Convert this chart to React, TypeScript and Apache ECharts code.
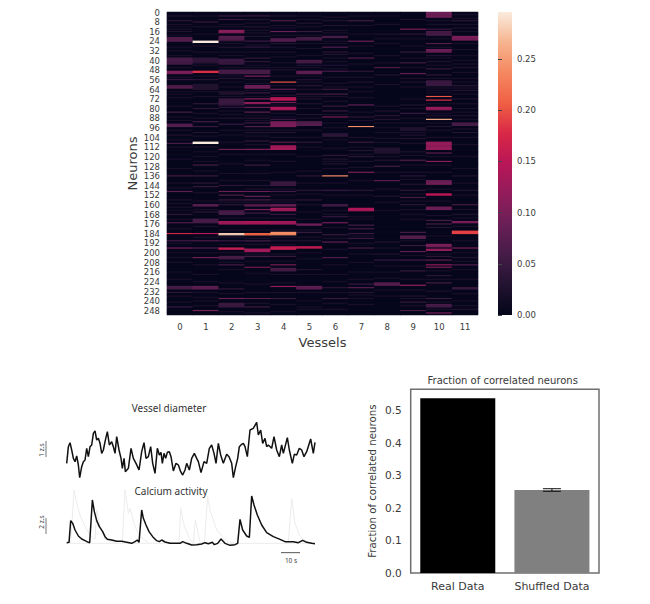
import React, { useEffect, useRef } from "react";
import * as echarts from "echarts";

// ---- heatmap: per vessel, [first neuron row, correlation, rows spanned]
const neuronCount = 252;
const baseline = 0.003;
const faintValue = 0.022;
const faintRows = [
  [10,14,19,32,36,46,54,68,71,78,87,90,98,106,112,122,130,142,146,159,162,172,180,192,200,208,216,222,236,241],
  [3,12,18,28,33,44,53,66,70,84,88,103,112,120,124,132,150,157,164,178,187,200,210,218,224,233,240,244],
  [10,12,24,26,33,36,46,53,58,62,70,82,85,98,102,108,118,126,134,140,158,171,181,187,193,200,208,214,225,234,242,249],
  [9,15,17,27,33,44,46,56,59,65,70,86,90,98,103,110,118,123,134,140,147,158,171,181,188,193,201,207,217,226,233,242,250],
  [11,13,19,29,33,37,42,46,53,61,66,77,84,87,98,104,118,124,133,147,152,158,171,181,187,193,201,207,218,225,233,243,249],
  [6,12,19,26,30,36,46,53,58,64,70,80,88,98,104,112,120,132,142,151,160,166,172,181,187,200,205,218,233,240,245],
  [4,17,24,26,38,41,47,54,62,70,74,85,92,96,106,113,124,130,142,152,165,168,179,188,197,210,218,224,233,242,247],
  [3,11,18,28,34,43,54,62,66,71,83,90,104,112,118,124,129,140,152,170,172,186,192,201,208,216,222,235,238,243],
  [10,22,36,42,60,78,92,100,108,120,133,147,165,196,211,221,231,236],
  [6,22,28,38,46,55,62,72,80,88,92,100,109,119,127,133,139,151,157,164,172,190,202,211,222,231,238,244],
  [7,10,22,29,38,44,55,63,67,76,84,92,98,104,120,127,133,147,157,169,186,201,215,222,232,241,247],
  [2,5,10,16,26,31,43,50,58,63,68,76,80,83,89,97,104,110,120,130,142,152,164,171,178,190,200,207,214,222,234,240,244],
];
const vessel0 = [[3,0.03],[7,0.04],[12,0.02],[16,0.03],[21,0.07,4],[29,0.02],[38,0.06,6],[49,0.1,3],[56,0.05],[61,0.07,3],[66,0.02],[83,0.06],[93,0.07,3],[102,0.03],[109,0.06],[118,0.01],[136,0.06],[149,0.08],[156,0.03],[165,0.02],[168,0.04],[175,0.07],[184,0.17],[190,0.06],[196,0.1],[204,0.02],[228,0.06,3],[233,0.04],[245,0.05]];
const vessel1 = [[8,0.05],[24,0.296,2],[38,0.04,5],[49,0.18,2],[56,0.04],[60,0.03,5],[76,0.04],[80,0.04],[91,0.06],[95,0.05],[100,0.03],[108,0.296,2],[116,0.02],[127,0.06],[136,0.05],[142,0.04],[145,0.05],[160,0.08,2],[166,0.04],[172,0.06,4],[184,0.15],[190,0.07],[196,0.07],[204,0.1],[228,0.08,3],[237,0.02],[248,0.1]];
const vessel2 = [[3,0.05],[6,0.05],[15,0.11,3],[20,0.07,4],[29,0.03],[39,0.05,5],[48,0.06,4],[55,0.03],[66,0.03,3],[72,0.05,6],[79,0.04],[88,0.03],[93,0.05],[114,0.09],[144,0.04],[149,0.09],[152,0.07],[156,0.05],[160,0.04],[165,0.06,4],[174,0.13,3],[184,0.28,2],[190,0.05],[196,0.16,2],[203,0.06,3],[210,0.06],[230,0.04],[238,0.09],[242,0.05,4]];
const vessel3 = [[3,0.05],[6,0.03],[12,0.03],[20,0.03],[24,0.05],[29,0.04],[38,0.04],[41,0.04],[48,0.06,4],[53,0.1],[61,0.09,3],[67,0.05],[72,0.11],[75,0.12,2],[79,0.08],[83,0.08],[88,0.03],[92,0.05],[95,0.07],[100,0.03],[107,0.05],[114,0.1],[127,0.05],[144,0.03],[149,0.09],[153,0.08],[156,0.06],[160,0.08,2],[164,0.1],[167,0.05],[174,0.14,3],[184,0.21,2],[190,0.06],[197,0.13,3],[203,0.06],[212,0.11],[238,0.08],[245,0.05]];
const vessel4 = [[3,0.03],[7,0.07],[16,0.09],[22,0.07,3],[26,0.03],[48,0.03],[58,0.2],[64,0.08],[69,0.03],[71,0.15,3],[75,0.1],[79,0.14,3],[89,0.05],[91,0.1,5],[100,0.03],[108,0.07],[111,0.13,4],[141,0.05,4],[149,0.06],[156,0.03],[160,0.09,2],[163,0.13,3],[168,0.05],[174,0.13,3],[183,0.24,3],[190,0.03],[195,0.16,3],[203,0.05],[210,0.1],[213,0.06,3],[228,0.12],[238,0.05]];
const vessel5 = [[3,0.02],[9,0.03],[16,0.05],[21,0.06,3],[40,0.06,3],[44,0.03],[49,0.08,3],[56,0.03],[61,0.04],[68,0.05],[72,0.03],[76,0.03],[85,0.03],[91,0.07,4],[108,0.04],[136,0.04],[148,0.04],[156,0.04],[176,0.09,2],[183,0.05],[190,0.03],[195,0.16,2],[214,0.03],[228,0.08,3],[247,0.02]];
const vessel6 = [[7,0.03],[11,0.03],[15,0.02],[20,0.06,2],[29,0.07],[33,0.04],[35,0.03],[44,0.03],[49,0.06],[59,0.02],[64,0.05],[68,0.06],[78,0.05],[82,0.05],[87,0.1],[101,0.04,3],[119,0.04],[122,0.03],[126,0.03],[136,0.24],[148,0.05],[160,0.06,2],[170,0.05],[175,0.1],[185,0.05],[191,0.08],[204,0.07],[229,0.04],[238,0.05]];
const vessel7 = [[7,0.06],[24,0.09],[38,0.07],[49,0.04],[58,0.03],[77,0.08],[87,0.04],[95,0.24],[108,0.05],[115,0.03],[120,0.04],[133,0.1],[148,0.04],[163,0.14,3],[177,0.06],[180,0.06],[184,0.05],[188,0.05],[196,0.06],[226,0.05],[229,0.08],[233,0.03]];
const vessel8 = [[3,0.02],[18,0.03],[26,0.02],[46,0.07],[52,0.03],[82,0.03],[86,0.04],[89,0.03],[96,0.02],[105,0.02],[113,0.03,5],[123,0.03],[128,0.06],[140,0.08],[153,0.03],[158,0.02],[191,0.03],[201,0.03],[206,0.05],[216,0.02],[225,0.07,3]];
const vessel9 = [[14,0.1],[18,0.04],[33,0.05],[42,0.06],[51,0.09],[58,0.03],[77,0.03],[84,0.05],[96,0.03,3],[102,0.03],[105,0.03],[116,0.03],[123,0.07],[136,0.04],[143,0.03],[148,0.04],[154,0.06],[160,0.04],[168,0.02],[183,0.06],[186,0.07,3],[194,0.05],[199,0.08],[206,0.06],[215,0.05],[227,0.12],[236,0.03],[241,0.05],[248,0.06]];
const vessel10 = [[0,0.09,5],[14,0.05],[16,0.06,4],[26,0.07],[31,0.09,3],[36,0.03],[41,0.03],[47,0.05],[52,0.04],[57,0.05,5],[65,0.02],[70,0.2],[73,0.18],[79,0.12,3],[86,0.03],[89,0.26],[95,0.03],[108,0.12,7],[117,0.08],[124,0.11],[140,0.09,4],[151,0.15,2],[162,0.09,3],[173,0.06],[176,0.06],[179,0.03],[193,0.1,3],[197,0.12,2],[203,0.04],[206,0.08],[210,0.12],[212,0.1],[219,0.04],[225,0.06],[238,0.05],[243,0.06,3],[250,0.1]];
const vessel11 = [[7,0.04],[13,0.03],[20,0.1,4],[36,0.02],[40,0.02],[46,0.03],[55,0.02],[61,0.04],[65,0.03],[72,0.03],[86,0.03],[92,0.06,3],[100,0.03],[136,0.03],[148,0.03],[160,0.06],[168,0.03],[174,0.1,2],[182,0.19,3],[196,0.1],[204,0.03],[210,0.07],[229,0.05,2],[247,0.03]];
const vesselColumns = [vessel0,vessel1,vessel2,vessel3,vessel4,vessel5,vessel6,vessel7,vessel8,vessel9,vessel10,vessel11];
const vesselLabels = ["0","1","2","3","4","5","6","7","8","9","10","11"];
const colorbarTicks = [0, 0.05, 0.1, 0.15, 0.2, 0.25];
const colorbarMax = 0.296;
const rocket = ["#03051A","#221331","#451C47","#6A1F56","#921C5B","#B91657","#D92847","#F06043","#F58860","#F6B48F","#FAEBDD"];

// ---- traces: [frame, height above trace-panel floor] (30 units = 1 z.s)
const vesselTrace = [[0,65],[5,115],[10,127],[15,105],[20,80],[25,70],[30,87],[35,60],[39,22],[45,55],[50,70],[55,75],[60,110],[65,85],[70,115],[75,120],[80,155],[85,162],[90,135],[95,140],[100,125],[105,95],[110,105],[115,130],[122,160],[128,120],[135,130],[140,115],[145,95],[150,145],[157,105],[163,80],[167,50],[172,80],[176,40],[185,50],[193,110],[200,80],[208,65],[217,45],[225,100],[232,127],[238,80],[245,85],[252,115],[258,65],[265,35],[272,110],[278,90],[283,98],[287,65],[292,95],[297,80],[302,98],[308,100],[313,85],[320,42],[328,65],[335,60],[342,40],[348,30],[355,45],[360,65],[368,45],[375,80],[383,95],[390,80],[395,70],[403,37],[412,70],[420,65],[428,110],[435,120],[442,95],[448,65],[455,125],[462,90],[470,65],[480,92],[487,85],[495,65],[500,22],[507,55],[513,80],[518,115],[525,122],[530,125],[535,115],[542,85],[550,165],[560,170],[570,188],[575,150],[582,165],[588,125],[595,140],[600,115],[605,120],[615,110],[622,145],[630,105],[638,85],[645,120],[650,95],[662,142],[668,105],[677,65],[683,92],[690,90],[698,110],[705,105],[712,85],[720,100],[732,138],[740,95],[745,128]];
const calciumTrace = [[0,82],[7,83],[12,148],[18,140],[25,120],[35,102],[45,93],[55,88],[65,83],[69,82],[77,210],[83,175],[90,148],[98,130],[108,115],[115,100],[122,92],[135,90],[150,86],[165,86],[180,83],[195,80],[205,85],[212,90],[217,83],[225,180],[230,155],[238,135],[247,115],[258,100],[270,88],[278,85],[285,90],[295,84],[310,80],[330,80],[340,80],[348,85],[360,80],[375,75],[390,76],[405,78],[415,82],[425,79],[437,83],[443,76],[453,80],[463,93],[475,80],[490,74],[505,76],[513,80],[520,152],[528,120],[540,102],[548,98],[555,222],[562,195],[572,165],[585,135],[600,112],[620,100],[640,92],[655,85],[680,85],[695,82],[708,89],[720,83],[735,80],[745,79]];
const ghostTraceA = [[0,80],[12,82],[22,240],[30,200],[40,165],[55,130],[70,105],[85,92],[90,180],[100,130],[115,92],[140,84],[167,85],[175,240],[185,170],[190,185],[205,130],[220,100],[245,82]];
const ghostTraceB = [[337,82],[342,185],[352,135],[370,90],[380,82],[386,150],[400,85],[413,80],[423,220],[430,180],[450,120],[480,85],[510,80]];
const ghostTraceC = [[665,85],[675,215],[685,140],[700,100],[725,82],[745,80]];
const ghostBaseline = [[0,80],[745,80]];
const scaleBarFrames = [[643,52],[700,52]];
const traceFrames = 745;
const traceRange = 270;

// ---- bar panel
const barCategories = ["Real Data","Shuffled Data"];
const barValues = [0.537, 0.255];
const barColors = ["#000000","#808080"];
const shuffledError = 0.004;
const barTicks = [0, 0.1, 0.2, 0.3, 0.4, 0.5];
const barAxisMax = 0.5645;

const FONT = "DejaVu Sans";
const TEXT = "#3a3a3a";

function heatmapCells() {
  const cells: number[][] = [];
  vesselColumns.forEach((col, c) => {
    const rows = new Array(neuronCount).fill(baseline);
    faintRows[c].forEach((r) => { rows[r] = faintValue; });
    col.forEach(([r, v, span = 1]) => {
      for (let i = 0; i < span; i++) rows[r + i] = v;
    });
    rows.forEach((v, r) => cells.push([c, r, v]));
  });
  return cells;
}

function ghost(data: number[][]) {
  return { type: "line", xAxisIndex: 3, yAxisIndex: 3, data, symbol: "none", silent: true,
    lineStyle: { color: "#ececec", width: 1 }, z: 1 };
}

export default function App() {
  const ref = useRef<HTMLDivElement>(null);
  useEffect(() => {
    document.body.style.margin = "0";
    document.body.style.background = "#fff";
    const chart = echarts.init(ref.current!, undefined, { renderer: "svg" });
    const rowLabels = Array.from({ length: neuronCount }, (_, i) => String(i));
    const hiddenValue = (min: number, max: number, gridIndex: number) => ({
      type: "value", gridIndex, min, max, show: false });
    const barGradient = new echarts.graphic.LinearGradient(0, 1, 0, 0,
      rocket.map((color, i) => ({ offset: i / (rocket.length - 1), color })));
    chart.setOption({
      animation: false,
      backgroundColor: "#ffffff",
      textStyle: { fontFamily: FONT },
      grid: [
        { left: 167, top: 12, width: 311, height: 303, show: true, backgroundColor: "#03051A", borderWidth: 0 },
        { left: 498, top: 12, width: 14, height: 303 },
        { left: 66.7, top: 395, width: 248.3, height: 90 },
        { left: 66.7, top: 480, width: 248.3, height: 90 },
        { left: 410.7, top: 389.3, width: 188.3, height: 183.7, show: true, borderColor: "#6f6f6f", borderWidth: 1.5, backgroundColor: "#fff" },
      ],
      xAxis: [
        { type: "category", gridIndex: 0, data: vesselLabels, axisLine: { show: false }, axisTick: { show: false },
          axisLabel: { fontSize: 8.5, color: TEXT, margin: 7, fontFamily: FONT },
          name: "Vessels", nameLocation: "middle", nameGap: 19, nameTextStyle: { fontSize: 13, color: TEXT, fontFamily: FONT } },
        hiddenValue(0, 1, 1),
        hiddenValue(0, traceFrames, 2),
        hiddenValue(0, traceFrames, 3),
        { type: "category", gridIndex: 4, data: barCategories, axisLine: { show: false }, axisTick: { show: false },
          axisLabel: { interval: 0, fontSize: 11, color: TEXT, margin: 8, fontFamily: FONT } },
      ],
      yAxis: [
        { type: "category", gridIndex: 0, data: rowLabels, inverse: true, axisLine: { show: false }, axisTick: { show: false },
          axisLabel: { interval: 7, fontSize: 8.5, color: TEXT, margin: 7, fontFamily: FONT },
          name: "Neurons", nameLocation: "middle", nameGap: 28, nameTextStyle: { fontSize: 13, color: TEXT, fontFamily: FONT } },
        { type: "value", gridIndex: 1, position: "right", min: 0, max: colorbarMax, splitLine: { show: false },
          axisLine: { show: false },
          axisTick: { show: true, length: 4, lineStyle: { color: "#444" }, customValues: colorbarTicks },
          axisLabel: { fontSize: 8.5, color: TEXT, margin: 5, fontFamily: FONT, customValues: colorbarTicks,
            formatter: (v: number) => v.toFixed(2) } },
        hiddenValue(0, traceRange, 2),
        hiddenValue(0, traceRange, 3),
        { type: "value", gridIndex: 4, min: 0, max: barAxisMax, splitLine: { show: false }, axisLine: { show: false }, axisTick: { show: false },
          axisLabel: { fontSize: 10.5, color: TEXT, margin: 9, fontFamily: FONT, customValues: barTicks,
            formatter: (v: number) => v.toFixed(1) },
          name: "Fraction of correlated neurons", nameLocation: "middle", nameGap: 33,
          nameTextStyle: { fontSize: 10.2, color: TEXT, fontFamily: FONT } },
      ],
      visualMap: {
        type: "continuous", show: false, seriesIndex: 0, min: 0, max: colorbarMax,
        inRange: { color: rocket },
      },
      series: [
        { type: "heatmap", xAxisIndex: 0, yAxisIndex: 0, data: heatmapCells(), silent: true, progressive: 0,
          itemStyle: { borderWidth: 0 } },
        { type: "line", xAxisIndex: 2, yAxisIndex: 2, data: vesselTrace, symbol: "none", silent: true,
          lineStyle: { color: "#111", width: 1.5 } },
        ghost(ghostTraceA), ghost(ghostTraceB), ghost(ghostTraceC), ghost(ghostBaseline),
        { type: "line", xAxisIndex: 3, yAxisIndex: 3, data: calciumTrace, symbol: "none", silent: true, z: 3,
          lineStyle: { color: "#111", width: 1.5 } },
        { type: "line", xAxisIndex: 3, yAxisIndex: 3, data: scaleBarFrames, symbol: "none", silent: true,
          lineStyle: { color: "#555", width: 1 } },
        { type: "bar", xAxisIndex: 4, yAxisIndex: 4, barWidth: 75, silent: true,
          data: barValues.map((v, i) => ({ value: v, itemStyle: { color: barColors[i] } })) },
        { type: "custom", xAxisIndex: 4, yAxisIndex: 4, silent: true, z: 5,
          data: [[1, barValues[1] - shuffledError, barValues[1] + shuffledError]],
          renderItem: (_p: any, api: any) => {
            const lo = api.coord([api.value(0), api.value(1)]);
            const hi = api.coord([api.value(0), api.value(2)]);
            const cap = 9;
            const st = { stroke: "#111", lineWidth: 1, fill: "none" };
            return { type: "group", children: [
              { type: "line", shape: { x1: lo[0], y1: lo[1], x2: hi[0], y2: hi[1] }, style: st },
              { type: "line", shape: { x1: lo[0] - cap, y1: lo[1], x2: lo[0] + cap, y2: lo[1] }, style: st },
              { type: "line", shape: { x1: hi[0] - cap, y1: hi[1], x2: hi[0] + cap, y2: hi[1] }, style: st },
            ] };
          } },
      ],
      graphic: [
        { type: "rect", shape: { x: 498, y: 12, width: 14, height: 303 }, style: { fill: barGradient } },
        { type: "text", x: 169, y: 408, style: { text: "Vessel diameter", fontSize: 10, fontFamily: "Noto Sans", fill: "#333", align: "center", verticalAlign: "middle" } },
        { type: "text", x: 171, y: 491, style: { text: "Calcium activity", fontSize: 10, fontFamily: "Noto Sans", fill: "#333", align: "center", verticalAlign: "middle" } },
        { type: "text", x: 291, y: 560, style: { text: "10 s", fontSize: 6.5, fontFamily: "Noto Sans", fill: "#444", align: "center", verticalAlign: "middle" } },
        { type: "text", x: 41, y: 450, rotation: Math.PI / 2, style: { text: "1 z.s", fontSize: 6.5, fontFamily: "Noto Sans", fill: "#444", align: "center", verticalAlign: "middle" } },
        { type: "text", x: 41, y: 522, rotation: Math.PI / 2, style: { text: "2 z.s", fontSize: 6.5, fontFamily: "Noto Sans", fill: "#444", align: "center", verticalAlign: "middle" } },
        { type: "line", shape: { x1: 46, y1: 441, x2: 46, y2: 457 }, style: { stroke: "#777", lineWidth: 1 } },
        { type: "line", shape: { x1: 46, y1: 518, x2: 46, y2: 534 }, style: { stroke: "#777", lineWidth: 1 } },
        { type: "text", x: 502.7, y: 380, style: { text: "Fraction of correlated neurons", fontSize: 10, fontFamily: FONT, fill: TEXT, align: "center", verticalAlign: "middle" } },
      ],
    });
    return () => chart.dispose();
  }, []);
  return <div ref={ref} style={{ width: 650, height: 604 }} />;
}
